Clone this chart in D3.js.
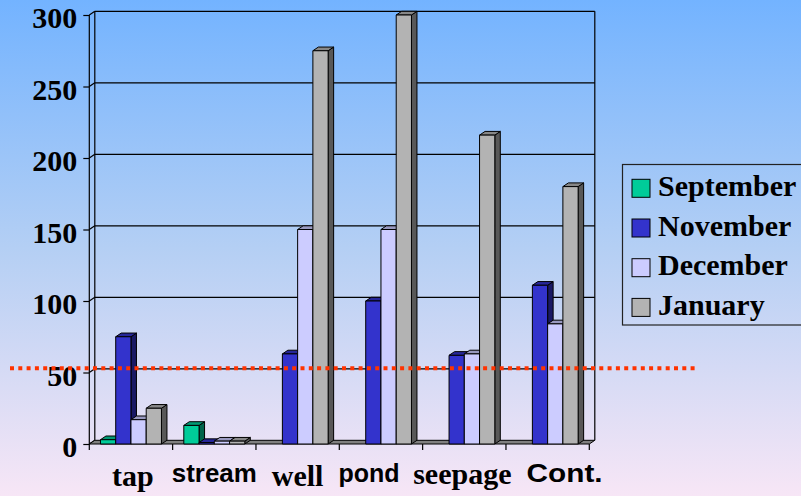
<!DOCTYPE html>
<html>
<head>
<meta charset="utf-8">
<script src="https://cdn.jsdelivr.net/npm/d3@7"></script>
<style>
  html, body { margin: 0; padding: 0; overflow: hidden; }
  svg { display: block; }
</style>
</head>
<body>
<svg id="chart" width="801" height="496"></svg>
<script>
// ---- data ----
const categories = ["tap", "stream", "well", "pond", "seepage", "Cont."];
const months = ["September", "November", "December", "January"];
const september = [3, 13, 0, 0, 0, 0];
const november  = [75, 1, 63, 100, 62, 111];
const december  = [17, 2, 150, 150, 63, 84];
const january   = [25, 2, 275, 300, 216, 180];
const yTicks = [0, 50, 100, 150, 200, 250, 300];
const threshold = 53;

// ---- look ----
const colors = ["#00cc99", "#3333cc", "#ccccff", "#b3b3b3"];
const serifCats = new Set(["tap", "well", "seepage"]);
const labelShift = { "tap": 2, "stream": 0, "well": 0, "pond": -12, "seepage": -2, "Cont.": 17 };
const labelBase  = { "tap": 486, "stream": 482, "well": 486, "pond": 482, "seepage": 484, "Cont.": 482 };
const labelLen   = { "stream": 85, "Cont.": 76 };
const serif = "'Liberation Serif', 'Times New Roman', serif";
const sans  = "'Liberation Sans', Arial, sans-serif";

const W = 801, H = 496;
const dx = 5.5, dy = 3.7;          // depth offset of the 3-D box
const left = 89.3, right = 589.3, floorY = 444, topY = 15;

const svg = d3.select("#chart");

// background gradient
const defs = svg.append("defs");
const grad = defs.append("linearGradient").attr("id", "bg")
  .attr("x1", 0).attr("y1", 0).attr("x2", 0).attr("y2", 1);
grad.append("stop").attr("offset", 0).attr("stop-color", "#73b3ff");
grad.append("stop").attr("offset", 0.5).attr("stop-color", "#b4cff4");
grad.append("stop").attr("offset", 1).attr("stop-color", "#f7e6f6");
svg.append("rect").attr("width", W).attr("height", H).attr("fill", "url(#bg)");

// scales
const y = d3.scaleLinear().domain([0, 300]).range([floorY, topY]);
const x0 = d3.scaleBand().domain(categories).range([left, right])
  .paddingInner(0.268).paddingOuter(0.134);
const x1 = d3.scaleBand().domain(months).range([0, x0.bandwidth()]);

const series = [september, november, december, january];

// ---- walls ----
const walls = svg.append("g").attr("fill", "none").attr("stroke", "#000").attr("stroke-width", 1.2);
// back-wall gridlines and their left-wall continuation
yTicks.forEach(t => {
  const yy = y(t);
  if (t > 0) {
    walls.append("line").attr("x1", left + dx).attr("x2", right + dx)
      .attr("y1", yy - dy).attr("y2", yy - dy);
  }
  walls.append("line").attr("x1", left).attr("x2", left + dx)
    .attr("y1", yy).attr("y2", yy - dy);
});
// wall edges
walls.append("line").attr("x1", left).attr("x2", left).attr("y1", topY).attr("y2", floorY);
walls.append("line").attr("x1", left + dx).attr("x2", left + dx).attr("y1", topY - dy).attr("y2", floorY - dy);
walls.append("line").attr("x1", right + dx).attr("x2", right + dx).attr("y1", topY - dy).attr("y2", floorY - dy);

// floor
svg.append("path")
  .attr("d", `M${left},${floorY}L${right},${floorY}L${right + dx},${floorY - dy}L${left + dx},${floorY - dy}Z`)
  .attr("fill", "#808080").attr("stroke", "#000").attr("stroke-width", 1);

// ---- bars ----
const barsG = svg.append("g").attr("stroke", "#000").attr("stroke-width", 1).attr("stroke-linejoin", "round");
categories.forEach((cat, ci) => {
  months.forEach((m, mi) => {
    const v = series[mi][ci];
    if (!(v > 0)) return;
    const bx = x0(cat) + x1(m), bw = x1.bandwidth();
    const by = y(v), base = y(0);
    const c = d3.color(colors[mi]);
    const g = barsG.append("g");
    g.append("path")
      .attr("d", `M${bx + bw},${base}L${bx + bw},${by}L${bx + bw + dx},${by - dy}L${bx + bw + dx},${base - dy}Z`)
      .attr("fill", c.darker(2).formatHex());
    g.append("path")
      .attr("d", `M${bx},${by}L${bx + bw},${by}L${bx + bw + dx},${by - dy}L${bx + dx},${by - dy}Z`)
      .attr("fill", c.darker(0.8).formatHex());
    g.append("rect").attr("x", bx).attr("y", by).attr("width", bw).attr("height", base - by)
      .attr("fill", colors[mi]);
  });
});

// ---- axes ----
const yAxis = d3.axisLeft(y).tickValues(yTicks).tickSize(6).tickPadding(6).tickFormat(d3.format("d"));
const gy = svg.append("g").attr("transform", `translate(${left},0)`).call(yAxis);
gy.select(".domain").remove();
gy.selectAll(".tick line").attr("stroke", "#000").attr("stroke-width", 1.2);
gy.selectAll(".tick text")
  .attr("dy", "0.43em")
  .attr("fill", "#000")
  .style("font-family", serif).style("font-weight", "bold").style("font-size", "30px");

// category boundary ticks
const step = x0.step();
const start = x0.range()[0];
d3.range(categories.length + 1).forEach(i => {
  const xx = start + i * step;
  svg.append("line").attr("x1", xx).attr("x2", xx).attr("y1", floorY).attr("y2", floorY + 6)
    .attr("stroke", "#000").attr("stroke-width", 1.2);
});

// category labels
categories.forEach(cat => {
  const t = svg.append("text")
    .attr("x", x0(cat) + x0.bandwidth() / 2 + labelShift[cat])
    .attr("y", labelBase[cat])
    .attr("text-anchor", "middle")
    .attr("fill", "#000")
    .style("font-weight", "bold")
    .style("font-family", serifCats.has(cat) ? serif : sans)
    .style("font-size", serifCats.has(cat) ? "30px" : "25px")
    .text(cat);
  if (labelLen[cat]) t.attr("textLength", labelLen[cat]).attr("lengthAdjust", "spacingAndGlyphs");
});

// reference line
svg.append("line")
  .attr("x1", 10).attr("x2", 696)
  .attr("y1", y(threshold)).attr("y2", y(threshold))
  .attr("stroke", "#ff3300").attr("stroke-width", 4)
  .attr("stroke-dasharray", "4 4.3");

// ---- legend ----
const lg = svg.append("g");
lg.append("rect").attr("x", 622.5).attr("y", 164.5).attr("width", 200).attr("height", 160.5)
  .attr("fill", "none").attr("stroke", "#222").attr("stroke-width", 1.2);
months.forEach((m, i) => {
  const cy = 188.3 + i * 39.7;
  lg.append("rect").attr("x", 632).attr("y", cy - 9).attr("width", 18).attr("height", 18)
    .attr("fill", colors[i]).attr("stroke", "#000").attr("stroke-width", 1);
  lg.append("text").attr("x", 658).attr("y", cy + 7.5)
    .attr("fill", "#000")
    .style("font-family", serif).style("font-weight", "bold").style("font-size", "30px")
    .text(m);
});
</script>
</body>
</html>
